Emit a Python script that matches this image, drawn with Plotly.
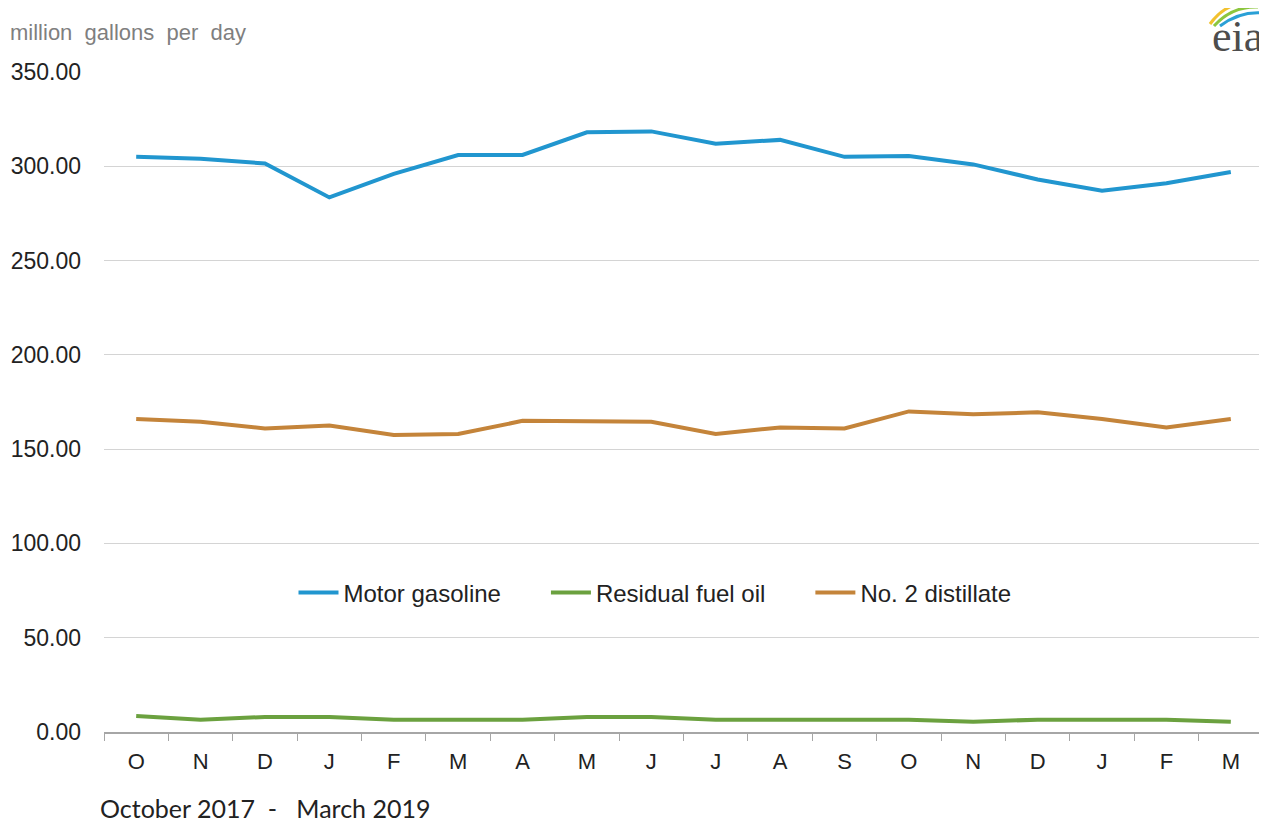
import plotly.graph_objects as go

months = ["O", "N", "D", "J", "F", "M", "A", "M", "J", "J", "A", "S", "O", "N", "D", "J", "F", "M"]
categories = [f"{i}" for i in range(len(months))]

motor_gasoline = [305.0, 304.0, 301.5, 283.5, 296.0, 306.0, 306.0, 318.0, 318.5, 312.0, 314.0, 305.0, 305.5, 301.0, 293.0, 287.0, 291.0, 297.0]
residual_fuel_oil = [8.5, 6.5, 8.0, 8.0, 6.5, 6.5, 6.5, 8.0, 8.0, 6.5, 6.5, 6.5, 6.5, 5.5, 6.5, 6.5, 6.5, 5.5]
no2_distillate = [166.0, 164.5, 161.0, 162.5, 157.5, 158.0, 165.0, 164.5, 164.5, 158.0, 161.5, 161.0, 170.0, 168.5, 169.5, 166.0, 161.5, 166.0]

y_ticks = [0, 50, 100, 150, 200, 250, 300, 350]

# page is rendered with an 8px body margin; work in page pixels
OFF = 8
PX0, PX1 = 104, 1263      # plot area left/right in page px
PY0, PY1 = 72, 732        # plot area top/bottom in page px
PW, PH = PX1 - PX0, PY1 - PY0


def px(x):
    return (x - PX0) / PW


def py(y):
    return (PY1 - y) / PH


fig = go.Figure()
series = [
    ("Motor gasoline", motor_gasoline, "#2196cf"),
    ("Residual fuel oil", residual_fuel_oil, "#6ba13f"),
    ("No. 2 distillate", no2_distillate, "#c4843a"),
]
for name, vals, col in series:
    fig.add_trace(go.Scatter(x=categories, y=vals, name=name + "      ", mode="lines",
                             line=dict(color=col, width=4)))

W, H = 1267 - OFF, 824 - OFF
fig.update_layout(
    width=W, height=H,
    margin=dict(l=PX0 - OFF, r=W - (PX1 - OFF), t=PY0 - OFF, b=H - (PY1 - OFF), autoexpand=False),
    paper_bgcolor="white", plot_bgcolor="white",
    font=dict(family="Liberation Sans, Arial, sans-serif", size=22, color="#222222"),
    showlegend=True,
    legend=dict(orientation="h", x=px(675), xanchor="center", y=py(593), yanchor="middle",
                font=dict(size=24, color="#222222"), bgcolor="rgba(0,0,0,0)",
                itemwidth=40, tracegroupgap=0),
    xaxis=dict(type="category", tickvals=categories, ticktext=months,
               tickson="boundaries", ticks="outside", ticklen=7, tickcolor="#a6a6a6",
               showline=True, linecolor="#a6a6a6", linewidth=1.5,
               showgrid=False, range=[-0.5, len(months) - 0.5],
               ticklabelstandoff=9,
               tickfont=dict(size=22, color="#222222")),
    yaxis=dict(range=[0, 350], tickvals=y_ticks, ticktext=[f"{v:.2f}" for v in y_ticks],
               showgrid=True, gridcolor="#d4d4d4", gridwidth=1.2, zeroline=False,
               showline=False, ticks="", ticklabelstandoff=22,
               tickfont=dict(size=23, color="#222222")),
)

fig.add_annotation(text="million  gallons  per  day", xref="paper", yref="paper",
                   x=px(8), y=py(32), xanchor="left", yanchor="middle",
                   showarrow=False, font=dict(size=22, color="#7f7f7f"))
fig.add_annotation(text="October 2017  -   March 2019", xref="paper", yref="paper",
                   x=px(98), y=py(808), xanchor="left", yanchor="middle",
                   showarrow=False, font=dict(family="Lato, sans-serif", size=25, color="#222222"))

# eia logo
fig.add_annotation(text="eia", xref="paper", yref="paper",
                   x=px(1265), y=py(36), xanchor="right", yanchor="middle",
                   showarrow=False, font=dict(family="Liberation Serif, serif", size=44, color="#4d4d4d"))
arcs = [
    ((1210, 24), (1226, 2), (1250, 3), "#f2c12e"),
    ((1214, 26), (1232, 6), (1258, 7), "#8cc63e"),
    ((1220, 26), (1240, 11), (1263, 13), "#2aa0d6"),
]
for (x0, y0), (cx, cy), (x1, y1), col in arcs:
    fig.add_shape(type="path", xref="paper", yref="paper",
                  path=f"M {px(x0)},{py(y0)} Q {px(cx)},{py(cy)} {px(x1)},{py(y1)}",
                  line=dict(color=col, width=3))

fig.write_html("out.html")
